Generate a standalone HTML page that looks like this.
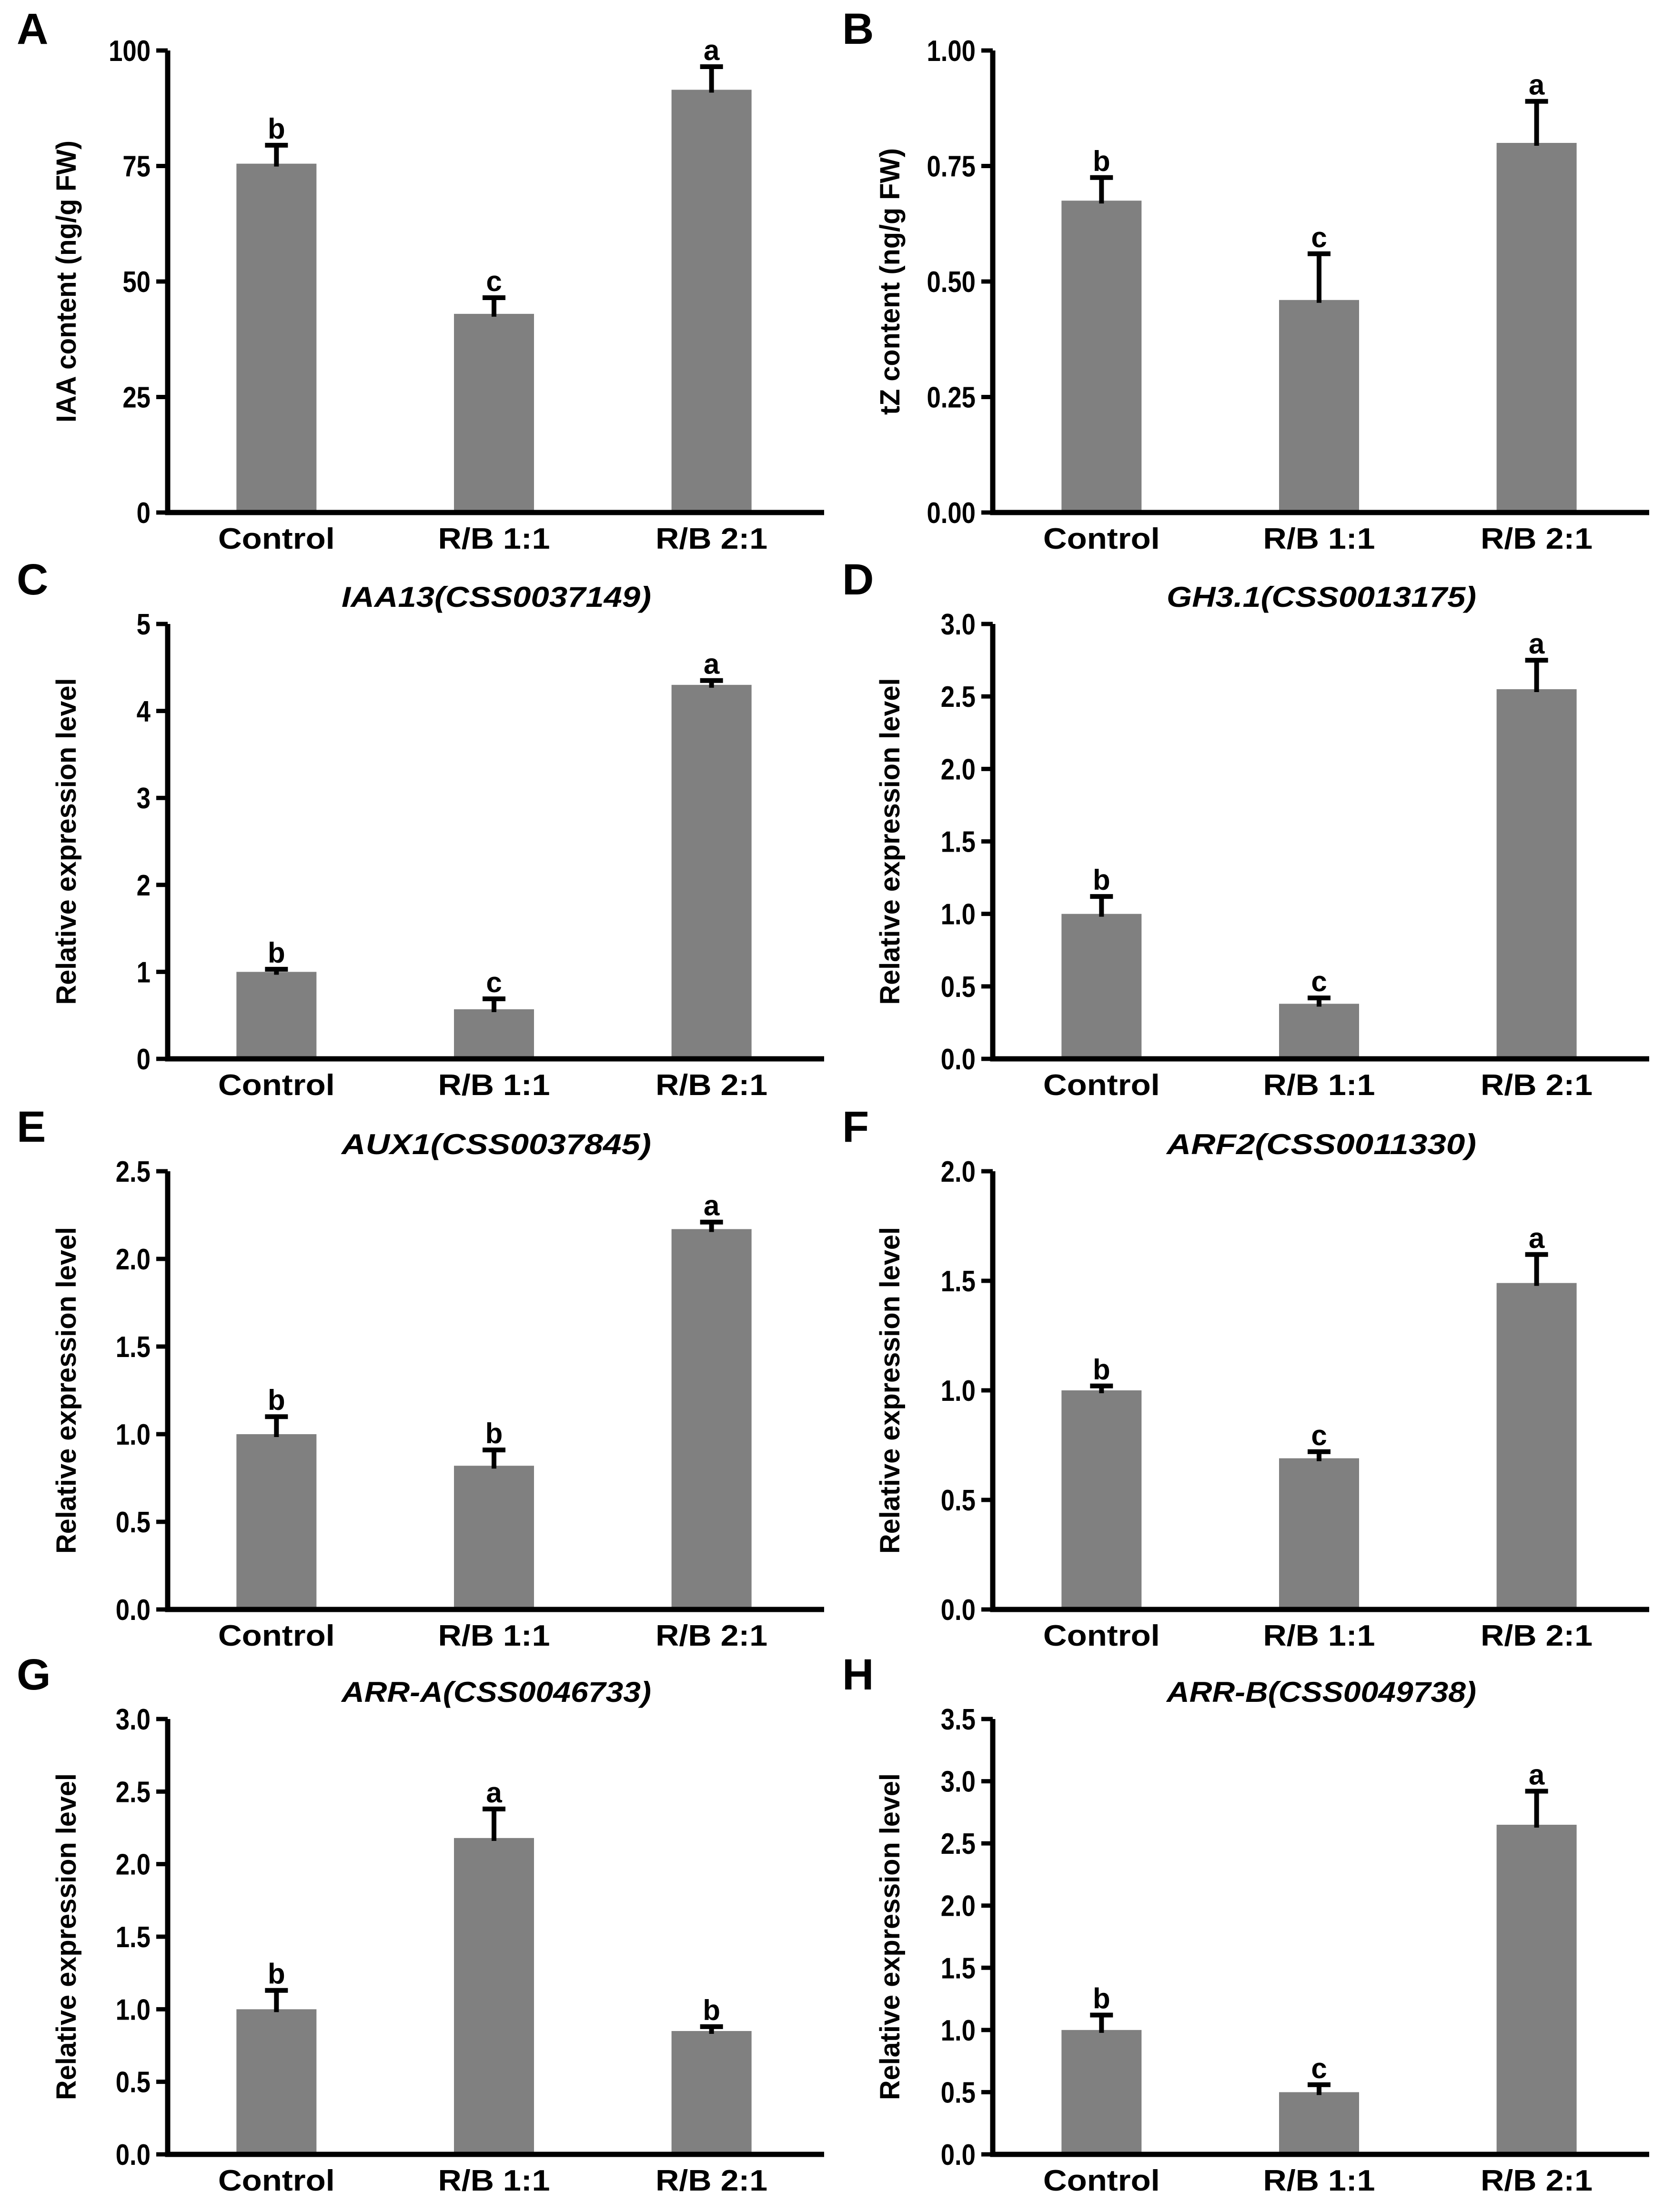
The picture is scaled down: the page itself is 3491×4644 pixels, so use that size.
<!DOCTYPE html>
<html><head><meta charset="utf-8"><style>
html,body{margin:0;padding:0;background:#fff;}
svg{display:block;}
text{font-family:"Liberation Sans",Arial,sans-serif;font-weight:bold;fill:#000;}
</style></head><body>
<svg id="fig" width="3491" height="4644" viewBox="0 0 3491 4644" xmlns="http://www.w3.org/2000/svg"></svg>
<script>
const categories = ["Control", "R/B 1:1", "R/B 2:1"];
const valuesA = [75.5, 43, 91.5];
const errorsA = [4, 3.5, 5];
const lettersA = ["b", "c", "a"];
const ticksA = ["0", "25", "50", "75", "100"];
const valuesB = [0.675, 0.46, 0.80];
const errorsB = [0.05, 0.10, 0.09];
const lettersB = ["b", "c", "a"];
const ticksB = ["0.00", "0.25", "0.50", "0.75", "1.00"];
const valuesC = [1.0, 0.57, 4.3];
const errorsC = [0.03, 0.12, 0.05];
const lettersC = ["b", "c", "a"];
const ticksC = ["0", "1", "2", "3", "4", "5"];
const valuesD = [1.0, 0.38, 2.55];
const errorsD = [0.12, 0.04, 0.2];
const lettersD = ["b", "c", "a"];
const ticksD = ["0.0", "0.5", "1.0", "1.5", "2.0", "2.5", "3.0"];
const valuesE = [1.0, 0.82, 2.17];
const errorsE = [0.1, 0.09, 0.04];
const lettersE = ["b", "b", "a"];
const ticksE = ["0.0", "0.5", "1.0", "1.5", "2.0", "2.5"];
const valuesF = [1.0, 0.69, 1.49];
const errorsF = [0.02, 0.03, 0.13];
const lettersF = ["b", "c", "a"];
const ticksF = ["0.0", "0.5", "1.0", "1.5", "2.0"];
const valuesG = [1.0, 2.18, 0.85];
const errorsG = [0.13, 0.2, 0.03];
const lettersG = ["b", "a", "b"];
const ticksG = ["0.0", "0.5", "1.0", "1.5", "2.0", "2.5", "3.0"];
const valuesH = [1.0, 0.5, 2.65];
const errorsH = [0.12, 0.06, 0.27];
const lettersH = ["b", "c", "a"];
const ticksH = ["0.0", "0.5", "1.0", "1.5", "2.0", "2.5", "3.0", "3.5"];

const NS = "http://www.w3.org/2000/svg";
const svg = document.getElementById("fig");
function mk(tag, attrs, parent) {
  const e = document.createElementNS(NS, tag);
  for (const k in attrs) e.setAttribute(k, attrs[k]);
  (parent || svg).appendChild(e);
  return e;
}
const rows = [[106, 1076], [1310, 2223], [2459, 3379], [3609, 4523]];
const cols = [352, 2084];
const panels = [
  {id:"A", v:valuesA, e:errorsA, l:lettersA, t:ticksA, col:0, row:0, title:"", ytitle:"IAA content (ng/g FW)", yl:592},
  {id:"B", v:valuesB, e:errorsB, l:lettersB, t:ticksB, col:1, row:0, title:"", ytitle:"tZ content (ng/g FW)", yl:560},
  {id:"C", v:valuesC, e:errorsC, l:lettersC, t:ticksC, col:0, row:1, title:"IAA13(CSS0037149)", ytitle:"Relative expression level", yl:686},
  {id:"D", v:valuesD, e:errorsD, l:lettersD, t:ticksD, col:1, row:1, title:"GH3.1(CSS0013175)", ytitle:"Relative expression level", yl:686},
  {id:"E", v:valuesE, e:errorsE, l:lettersE, t:ticksE, col:0, row:2, title:"AUX1(CSS0037845)", ytitle:"Relative expression level", yl:686},
  {id:"F", v:valuesF, e:errorsF, l:lettersF, t:ticksF, col:1, row:2, title:"ARF2(CSS0011330)", ytitle:"Relative expression level", yl:686},
  {id:"G", v:valuesG, e:errorsG, l:lettersG, t:ticksG, col:0, row:3, title:"ARR-A(CSS0046733)", ytitle:"Relative expression level", yl:686},
  {id:"H", v:valuesH, e:errorsH, l:lettersH, t:ticksH, col:1, row:3, title:"ARR-B(CSS0049738)", ytitle:"Relative expression level", yl:686}
];
const W = 1370, barW = 168;
panels.forEach(p => {
  const ax = cols[p.col], top = rows[p.row][0], base = rows[p.row][1];
  const g = mk("g", {});
  
  
  const tmax = parseFloat(p.t[p.t.length - 1]);
  const y = v => base - (v / tmax) * (base - top);
  const xc = i => ax + (i + 0.5) * W / 3;
  const pl = mk("text", {x: p.col ? 1768 : 35, y: top - (p.row ? 62 : 14), "font-size": 92}, g);
  pl.textContent = p.id;
  
  
  if (p.title) {
    const tt = mk("text", {x: ax + W / 2 + 5, y: top - 36, "font-size": 60, "font-style": "italic", "text-anchor": "middle", textLength: 650, lengthAdjust: "spacingAndGlyphs"}, g);
    tt.textContent = p.title;
    
    
  }
  p.v.forEach((v, i) => {
    const r = mk("rect", {x: xc(i) - barW / 2, y: y(v), width: barW, height: base - y(v), fill: "#808080"}, g);
    
    
    const yt = y(v + p.e[i]);
    const eb = mk("path", {d: `M${xc(i)},${y(v) + 6}V${yt}M${xc(i) - 24},${yt}H${xc(i) + 24}`, stroke: "#000", "stroke-width": 10, fill: "none"}, g);
    
    
    const lt = mk("text", {x: xc(i), y: yt - 14, "font-size": 60, "text-anchor": "middle"}, g);
    lt.textContent = p.l[i];
    
    
  });
  const axl = mk("path", {d: `M${ax},${top}V${base}H${ax + W + 8}`, stroke: "#000", "stroke-width": 11, fill: "none"}, g);
  
  
  p.t.forEach(t => {
    const ty = y(parseFloat(t));
    const tk = mk("line", {x1: ax - 24, x2: ax, y1: ty, y2: ty, stroke: "#000", "stroke-width": 9}, g);
    
    
    const tl = mk("text", {x: ax - 36, y: ty + 22, "font-size": 62, "text-anchor": "end", transform: `translate(${ax - 36},0) scale(0.85,1) translate(${-(ax - 36)},0)`}, g);
    tl.textContent = t;
    
    
  });
  categories.forEach((c, i) => {
    const cl = mk("text", {x: xc(i), y: base + 76, "font-size": 62, "text-anchor": "middle", textLength: c === "Control" ? 245 : 235, lengthAdjust: "spacingAndGlyphs"}, g);
    cl.textContent = c;
    
    
  });
  const yx = ax - (p.col ? 196 : 193), ym = (top + base) / 2;
  const yt = mk("text", {x: yx, y: ym, "font-size": 58, "text-anchor": "middle", transform: `rotate(-90 ${yx} ${ym})`, textLength: p.yl, lengthAdjust: "spacingAndGlyphs"}, g);
  yt.textContent = p.ytitle;
  
  
});
</script>
</body></html>
